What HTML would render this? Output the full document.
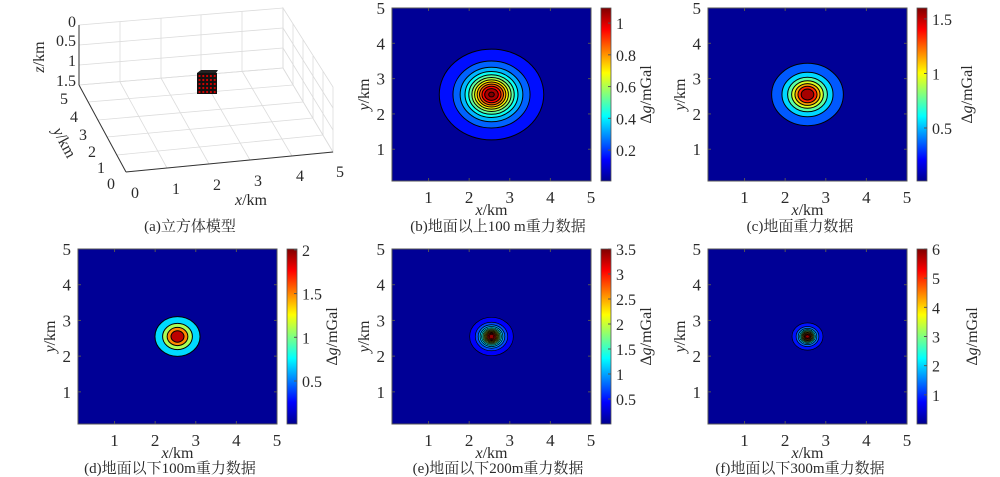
<!DOCTYPE html>
<html><head><meta charset="utf-8"><style>
html,body{margin:0;padding:0;background:#fff;}
svg{display:block;}
text{font-family:"Liberation Serif","Noto Serif CJK SC",serif;fill:#2a2a2a;}
.cap{font-family:"Liberation Serif","Noto Serif CJK SC","Noto Sans CJK SC",serif;}
</style></head><body>
<svg id="s" width="1000" height="477" xmlns="http://www.w3.org/2000/svg">
<defs>
<linearGradient id="jet" x1="0" y1="1" x2="0" y2="0">
<stop offset="0" stop-color="#00008f"/><stop offset="0.125" stop-color="#0000ff"/>
<stop offset="0.375" stop-color="#00ffff"/><stop offset="0.625" stop-color="#ffff00"/>
<stop offset="0.875" stop-color="#ff0000"/><stop offset="1" stop-color="#800000"/>
</linearGradient>
</defs>
<g stroke="#dcdcdc" stroke-width="0.8" fill="none">
<polygon points="79,25 283,8 283,68 79,85"/>
<polygon points="283,8 333,87 333,152 283,68"/>
<polygon points="79,85 283,68 333,152 126,172"/>
<line x1="120" y1="22" x2="120" y2="82"/><line x1="161" y1="18" x2="161" y2="78"/><line x1="201" y1="15" x2="201" y2="75"/><line x1="242" y1="11" x2="242" y2="72"/>
<line x1="79" y1="45" x2="283" y2="28"/><line x1="79" y1="65" x2="283" y2="48"/>
<line x1="293" y1="24" x2="293" y2="85"/><line x1="303" y1="40" x2="303" y2="102"/><line x1="313" y1="56" x2="313" y2="118"/><line x1="323" y1="71" x2="323" y2="135"/>
<line x1="283" y1="28" x2="333" y2="108"/><line x1="283" y1="48" x2="333" y2="130"/>
<line x1="120" y1="82" x2="167" y2="168"/><line x1="161" y1="78" x2="209" y2="164"/><line x1="201" y1="75" x2="250" y2="160"/><line x1="242" y1="71" x2="292" y2="156"/>
<line x1="88" y1="102" x2="293" y2="85"/><line x1="98" y1="120" x2="303" y2="102"/><line x1="107" y1="137" x2="313" y2="118"/><line x1="117" y1="155" x2="323" y2="135"/>
</g>
<g stroke="#333" stroke-width="1" fill="none">
<line x1="79" y1="25" x2="79" y2="85"/><line x1="79" y1="85" x2="126" y2="172"/><line x1="126" y1="172" x2="333" y2="152"/>
</g>
<polygon points="197,73 201,70 218,70 216,73" fill="#222"/>
<rect x="197" y="73" width="20" height="21" fill="#111"/>
<g id="dots" fill="#d00000"></g>
<g font-size="16">
<text x="76" y="27" text-anchor="end">0</text><text x="76" y="46" text-anchor="end">0.5</text><text x="76" y="66" text-anchor="end">1</text><text x="76" y="86" text-anchor="end">1.5</text>
<text x="60" y="104">5</text><text x="70" y="122">4</text><text x="79" y="140">3</text><text x="88" y="157">2</text><text x="97" y="173">1</text><text x="107" y="189">0</text>
<text x="131" y="198">0</text><text x="172" y="194">1</text><text x="213" y="190">2</text><text x="254" y="186">3</text><text x="296" y="181">4</text><text x="336" y="177">5</text>
<text x="235" y="205"><tspan font-style="italic">x</tspan>/km</text>
<text transform="translate(44,57) rotate(-90)" text-anchor="middle"><tspan font-style="italic">z</tspan>/km</text>
<text transform="translate(60,145) rotate(62)" text-anchor="middle"><tspan font-style="italic">y</tspan>/km</text>
</g>
<text class="cap" x="190" y="231" font-size="15" text-anchor="middle">(a)立方体模型</text>
<g id="panels"></g>
</svg>
<script>
var NS="http://www.w3.org/2000/svg",P=document.getElementById('panels');
function el(t,a,txt,par){var e=document.createElementNS(NS,t);for(var k in a)e.setAttribute(k,a[k]);if(txt!==undefined)e.textContent=txt;(par||P).appendChild(e);return e;}
var d=document.getElementById('dots');
for(var i=0;i<5;i++)for(var j=0;j<5;j++)el('circle',{cx:199.5+i*3.8,cy:76+j*4,r:1.1},undefined,d);
function cl(v){return Math.max(0,Math.min(1,v));}
function jet(t){var r=cl(1.5-Math.abs(4*t-3)),g=cl(1.5-Math.abs(4*t-2)),b=cl(1.5-Math.abs(4*t-1));return 'rgb('+Math.round(r*255)+','+Math.round(g*255)+','+Math.round(b*255)+')';}
function panel(o){
 var x0=o.x,y0=o.y,W=199,H=o.h;
 function px(k){return x0+(k-0.1)/4.9*W;} function py(k){return y0+H-(k-0.1)/4.9*H;}
 el('rect',{x:x0,y:y0,width:W,height:H,fill:'rgb(0,0,150)'});
 var cx=px(2.55),cy=py(2.55),sx=W/4.9,sy=H/4.9;
 for(var k=1;k<=o.n;k++){
  var f=k*o.step/o.max; if(f>=1)break;
  var r=o.hh*Math.sqrt(Math.pow(f,-2/3)-1);
  var fm=Math.min(1,(k+0.7)*o.step/o.max);
  el('ellipse',{cx:cx,cy:cy,rx:r*sx,ry:r*sy,fill:jet(fm),stroke:'#000','stroke-width':o.sw||1});
 }
 el('rect',{x:x0,y:y0,width:W,height:H,fill:'none',stroke:'#555','stroke-width':1});
 for(var t=1;t<=5;t++){
  var X=px(t),Y=py(t);
  el('line',{x1:X,y1:y0+H,x2:X,y2:y0+H-3,stroke:'#555'});el('line',{x1:X,y1:y0,x2:X,y2:y0+3,stroke:'#555'});
  el('line',{x1:x0,y1:Y,x2:x0+3,y2:Y,stroke:'#555'});el('line',{x1:x0+W,y1:Y,x2:x0+W-3,y2:Y,stroke:'#555'});
  el('text',{x:X,y:y0+H+22,'text-anchor':'middle','font-size':17},String(t));
  el('text',{x:x0-7,y:Y+6,'text-anchor':'end','font-size':17},String(t));
 }
 var xl=el('text',{x:px(2.55),y:y0+H+34,'text-anchor':'middle','font-size':16});
 el('tspan',{'font-style':'italic'},'x',xl);el('tspan',{},'/km',xl);
 var yl=el('text',{transform:'translate('+(x0-23)+','+(y0+H/2)+') rotate(-90)','text-anchor':'middle','font-size':16});
 el('tspan',{'font-style':'italic'},'y',yl);el('tspan',{},'/km',yl);
 var cbx=x0+W+10;
 el('rect',{x:cbx,y:y0,width:10,height:H,fill:'url(#jet)',stroke:'#555','stroke-width':0.8});
 o.ticks.forEach(function(v){var Y=y0+H-(v-o.cmin)/(o.cmax-o.cmin)*H;
  el('line',{x1:cbx+10,y1:Y,x2:cbx+7,y2:Y,stroke:'#555'});
  el('text',{x:cbx+15,y:Y+6,'font-size':16},String(v));});
 var cb=el('text',{transform:'translate('+(cbx+o.lbx)+','+(y0+H/2)+') rotate(-90)','text-anchor':'middle','font-size':16});
 el('tspan',{},'Δ',cb);el('tspan',{'font-style':'italic'},'g',cb);el('tspan',{},'/mGal',cb);
 el('text',{x:o.capx,y:o.capy,'text-anchor':'middle','font-size':15,'class':'cap'},o.cap);
}
panel({x:392,y:8,h:173,max:1.1,step:0.09,n:12,hh:0.62,cmin:0.005,cmax:1.095,ticks:[0.2,0.4,0.6,0.8,1],lbx:50,cap:'(b)地面以上100 m重力数据',capx:498,capy:231});
panel({x:708,y:8,h:173,max:1.6,step:0.2,n:8,hh:0.51,cmin:0.014,cmax:1.6,ticks:[0.5,1,1.5],lbx:55,cap:'(c)地面重力数据',capx:800,capy:231});
panel({x:78,y:249,h:175,max:2,step:0.4,n:4,hh:0.4,cmin:0.008,cmax:2.01,ticks:[0.5,1,1.5,2],lbx:50,cap:'(d)地面以下100m重力数据',capx:170,capy:473});
panel({x:392,y:249,h:175,max:3.5,step:0.25,n:14,hh:0.245,sw:0.7,cmin:0,cmax:3.5,ticks:[0.5,1,1.5,2,2.5,3,3.5],lbx:50,cap:'(e)地面以下200m重力数据',capx:498,capy:473});
panel({x:708,y:249,h:175,max:6,step:0.5,n:12,hh:0.185,sw:0.7,cmin:0,cmax:6,ticks:[1,2,3,4,5,6],lbx:60,cap:'(f)地面以下300m重力数据',capx:800,capy:473});
</script>
</body></html>
